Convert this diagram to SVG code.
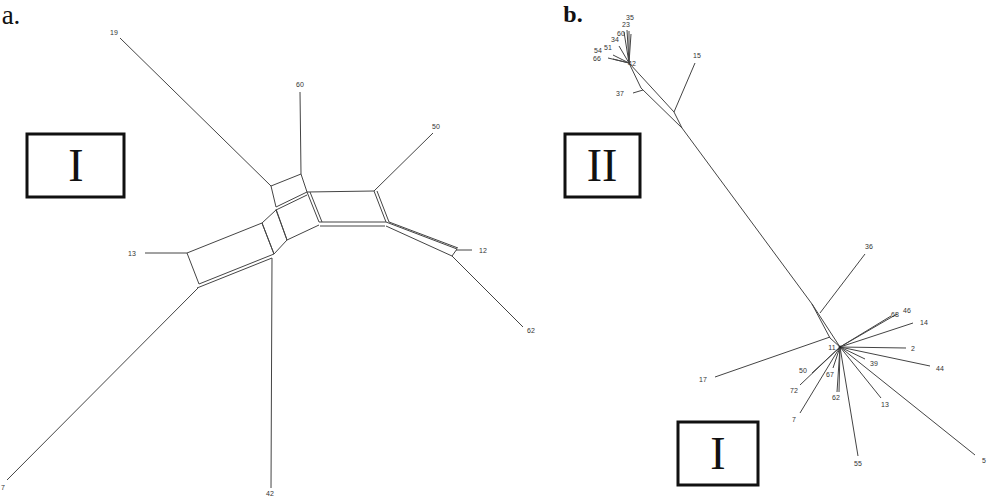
<svg xmlns="http://www.w3.org/2000/svg" width="988" height="498" viewBox="0 0 988 498">
<style>
.e{stroke:#444;stroke-width:1;fill:none;stroke-linejoin:round}
.l{font-family:"Liberation Sans",Arial,sans-serif;font-size:7px;fill:#333;text-anchor:middle}
.bx{stroke:#111;stroke-width:3;fill:none}
.big{font-family:"Liberation Serif","Times New Roman",serif;fill:#111;text-anchor:middle}
</style>
<rect width="988" height="498" fill="#fff"/>
<text class="big" x="11" y="24" font-size="27">a.</text>
<text class="big" x="573" y="22" font-size="24" font-weight="bold">b.</text>
<g id="connectors">
<g id="panel-a-edges">
<path class="e" d="M120,38 L271,186"/>
<path class="e" d="M300,92 L301,174"/>
<polygon class="e" points="271,186 301,174 307,192 276,207"/>
<path class="e" d="M276,210 L307,195"/>
<polygon class="e" points="307,192 374,191 386,222 319,222"/>
<path class="e" d="M310,192 L322,222"/>
<path class="e" d="M320,226 L385,226"/>
<path class="e" d="M377,191 L389,222"/>
<path class="e" d="M276,209 L287,240 L319,225"/>
<polygon class="e" points="262,223 276,210 287,240 274,254"/>
<polygon class="e" points="187,253 262,223 274,254 199,284"/>
<path class="e" d="M197,288 L272,258"/>
<path class="e" d="M145,253 L187,253"/>
<path class="e" d="M272,258 L271,488"/>
<path class="e" d="M198,288 L7,480"/>
<path class="e" d="M374,191 L433,133"/>
<path class="e" d="M386,222 L457,249 M389,222 L458,248 M386,226 L452,256 M457,249 L452,256"/>
<path class="e" d="M456,250 L472,250"/>
<path class="e" d="M452,256 L523,327"/>
</g>
<g id="panel-b-edges">
<path class="e" d="M629,63 L627,30 M629,63 L629,31 M629,63 L624,32 M629,63 L631,34 M629,63 L619,46 M629,63 L613,55 M629,63 L608,58 M629,63 L613,59"/>
<polygon class="e" points="629,63 674,112 682,128 641,88"/>
<path class="e" d="M633,93 L643,90"/>
<path class="e" d="M674,112 L695,63"/>
<path class="e" d="M682,128 L812,304"/>
<polygon class="e" points="812,304 840,347 830,338"/>
<path class="e" d="M820,313 L865,254"/>
<path class="e" d="M715,377 L830,337"/>
<path class="e" d="M840,347 L891,316 M840,347 L897,314 M840,347 L913,323 M840,347 L906,348 M840,347 L930,366 M840,347 L865,359 M840,347 L881,398 M840,347 L975,455 M840,347 L858,456 M840,347 L837,392 M840,347 L839,392 M840,347 L833,368 M840,347 L812,373 M840,347 L800,385 M840,347 L800,413"/>
<circle cx="840" cy="347" r="1.5" fill="#222"/>
</g>
</g>
<g id="box-a-I"><rect class="bx" x="27" y="134" width="97" height="63"/><text class="big" x="76" y="181" font-size="46">I</text></g>
<g id="box-b-II"><rect class="bx" x="565" y="134" width="75" height="63"/><text class="big" x="602" y="181" font-size="46">II</text></g>
<g id="box-b-I"><rect class="bx" x="678" y="422" width="80" height="63"/><text class="big" x="718" y="469" font-size="46">I</text></g>
<g id="a-19"><text class="l" x="114" y="35">19</text></g>
<g id="a-60"><text class="l" x="300" y="87">60</text></g>
<g id="a-50"><text class="l" x="436" y="129">50</text></g>
<g id="a-12"><text class="l" x="483" y="253">12</text></g>
<g id="a-62"><text class="l" x="531" y="333">62</text></g>
<g id="a-13"><text class="l" x="132" y="256">13</text></g>
<g id="a-7"><text class="l" x="3" y="490">7</text></g>
<g id="a-42"><text class="l" x="270" y="496">42</text></g>
<g id="b-35"><text class="l" x="630" y="20">35</text></g>
<g id="b-23"><text class="l" x="626" y="27">23</text></g>
<g id="b-60"><text class="l" x="621" y="36">60</text></g>
<g id="b-34"><text class="l" x="615" y="42">34</text></g>
<g id="b-51"><text class="l" x="608" y="50">51</text></g>
<g id="b-54"><text class="l" x="598" y="53">54</text></g>
<g id="b-66"><text class="l" x="597" y="61">66</text></g>
<g id="b-42"><text class="l" x="632" y="66">42</text></g>
<g id="b-15"><text class="l" x="697" y="58">15</text></g>
<g id="b-37"><text class="l" x="620" y="96">37</text></g>
<g id="b-36"><text class="l" x="869" y="249">36</text></g>
<g id="b-68"><text class="l" x="895" y="317">68</text></g>
<g id="b-46"><text class="l" x="907" y="313">46</text></g>
<g id="b-14"><text class="l" x="924" y="325">14</text></g>
<g id="b-11"><text class="l" x="832" y="350">11</text></g>
<g id="b-2"><text class="l" x="913" y="351">2</text></g>
<g id="b-39"><text class="l" x="874" y="366">39</text></g>
<g id="b-44"><text class="l" x="940" y="371">44</text></g>
<g id="b-50"><text class="l" x="803" y="373">50</text></g>
<g id="b-67"><text class="l" x="830" y="377">67</text></g>
<g id="b-17"><text class="l" x="703" y="382">17</text></g>
<g id="b-72"><text class="l" x="794" y="393">72</text></g>
<g id="b-62"><text class="l" x="836" y="400">62</text></g>
<g id="b-13"><text class="l" x="885" y="407">13</text></g>
<g id="b-7"><text class="l" x="794" y="422">7</text></g>
<g id="b-55"><text class="l" x="858" y="466">55</text></g>
<g id="b-5"><text class="l" x="984" y="463">5</text></g>
</svg>
